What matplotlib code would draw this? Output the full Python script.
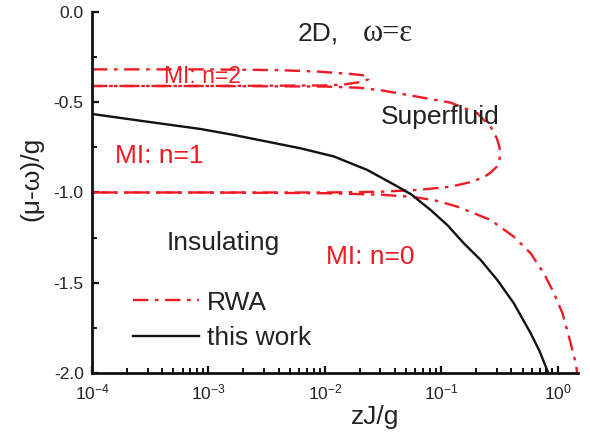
import matplotlib
matplotlib.use("Agg")
import matplotlib.pyplot as plt
from matplotlib.ticker import FixedLocator, LogLocator, NullFormatter, MultipleLocator

plt.rcParams['font.family'] = ['Liberation Sans', 'DejaVu Sans']
plt.rcParams['mathtext.fontset'] = 'custom'
plt.rcParams['mathtext.rm'] = 'Liberation Sans'
plt.rcParams['mathtext.default'] = 'regular'

# ---- data ----
# RWA, n=2 lobe (upper branch left->tip, lower branch tip->left)
rwa2_x = [1e-4, 1e-3, 4e-3, 0.0086, 0.0166, 0.021, 0.0238, 0.0236, 0.0212, 0.0145, 0.01, 1e-3, 1e-4]
rwa2_y = [-0.318, -0.318, -0.322, -0.330, -0.343, -0.350, -0.360, -0.373, -0.386, -0.402, -0.407, -0.41, -0.41]
# RWA, n=1 lobe
rwa1_x = [1e-4, 1e-3, 0.01, 0.02, 0.032, 0.062, 0.12, 0.204, 0.265, 0.30, 0.315, 0.322,
          0.315, 0.30, 0.265, 0.232, 0.179, 0.12, 0.062, 0.03, 0.01, 1e-3, 1e-4]
rwa1_y = [-0.41, -0.41, -0.413, -0.42, -0.436, -0.469, -0.502, -0.561, -0.635, -0.70, -0.746, -0.78,
          -0.825, -0.857, -0.89, -0.915, -0.942, -0.968, -0.986, -0.996, -1.0, -1.0, -1.0]
# RWA, n=0 lobe boundary
rwa0_x = [1e-4, 1e-3, 0.01, 0.03, 0.058, 0.09, 0.137, 0.265, 0.42, 0.586, 0.76, 0.93, 1.10, 1.25, 1.43, 1.47]
rwa0_y = [-1.0, -1.0, -1.004, -1.012, -1.025, -1.045, -1.078, -1.152, -1.245, -1.337, -1.448, -1.558, -1.67, -1.80, -1.946, -2.0]
# this work
tw_x = [1e-4, 3e-4, 8.5e-4, 1.64e-3, 3.18e-3, 6.15e-3, 0.0119, 0.0231, 0.039, 0.055, 0.081, 0.1125,
        0.156, 0.218, 0.303, 0.42, 0.586, 0.70, 0.83]
tw_y = [-0.565, -0.608, -0.648, -0.681, -0.718, -0.755, -0.80, -0.875, -0.955, -1.01, -1.097, -1.18,
        -1.281, -1.374, -1.485, -1.614, -1.78, -1.88, -2.0]

xtick_vals = [1e-4, 1e-3, 1e-2, 1e-1, 1e0]
xtick_labels = ['10$^{-4}$', '10$^{-3}$', '10$^{-2}$', '10$^{-1}$', '10$^{0}$']
ytick_vals = [0.0, -0.5, -1.0, -1.5, -2.0]
ytick_labels = ['0.0', '-0.5', '-1.0', '-1.5', '-2.0']

red = '#ed1c24'
dash = (0, (6.5, 2.8, 1.5, 2.8))

fig = plt.figure(figsize=(5.90, 4.33), dpi=100)
ax = fig.add_axes([0.156, 0.1386, 0.824, 0.8337])

ax.plot(rwa2_x, rwa2_y, color=red, lw=1.7, linestyle=dash)
ax.plot(rwa1_x, rwa1_y, color=red, lw=1.7, linestyle=dash, label='RWA')
ax.plot(rwa0_x, rwa0_y, color=red, lw=1.7, linestyle=dash)
ax.plot(tw_x, tw_y, color='#111111', lw=1.7, label='this work')

ax.set_xscale('log')
ax.set_xlim(1e-4, 1.5)
ax.set_ylim(-2.0, 0.0)

ax.xaxis.set_major_locator(FixedLocator(xtick_vals))
ax.set_xticklabels(xtick_labels)
ax.xaxis.set_minor_locator(LogLocator(base=10, subs=range(2, 10), numticks=20))
ax.xaxis.set_minor_formatter(NullFormatter())
ax.set_yticks(ytick_vals)
ax.set_yticklabels(ytick_labels)
ax.yaxis.set_minor_locator(MultipleLocator(0.25))

for s in ['top', 'right']:
    ax.spines[s].set_visible(False)
for s in ['left', 'bottom']:
    ax.spines[s].set_linewidth(2.0)
    ax.spines[s].set_color('#111111')

ax.tick_params(which='major', direction='in', length=5, width=1.6, labelsize=12.5, color='#111111', labelcolor='#222222')
ax.tick_params(which='minor', direction='in', length=3.5, width=1.4, color='#111111')
ax.tick_params(axis='y', which='major', pad=6)
ax.tick_params(axis='x', which='major', pad=7)

ax.set_xlabel('zJ/g', fontsize=19, color='#222222', labelpad=2)
ax.xaxis.label.set_x(0.582)
ax.set_ylabel('(μ-ω)/g', fontsize=19, color='#222222')
ax.yaxis.set_label_coords(-0.10, 0.537)

# annotations
ax.text(8.9e-4, -0.355, 'MI: n=2', color=red, fontsize=16.5, ha='center', va='center')
ax.text(3.8e-4, -0.80, 'MI: n=1', color=red, fontsize=19, ha='center', va='center')
ax.text(0.0245, -1.357, 'MI: n=0', color=red, fontsize=19, ha='center', va='center')
ax.text(0.098, -0.58, 'Superfluid', color='#222222', fontsize=19, ha='center', va='center')
ax.text(1.33e-3, -1.28, 'Insulating', color='#222222', fontsize=19, ha='center', va='center')
ax.text(0.0058, -0.12, '2D,', color='#222222', fontsize=19, ha='left', va='center')
ax.text(0.021, -0.12, 'ω=ε', color='#222222', fontsize=22, ha='left', va='center',
        family=['Liberation Serif', 'DejaVu Serif'])

leg = ax.legend(loc='upper left', bbox_to_anchor=(0.085, 0.228), frameon=False, fontsize=19,
                handlelength=2.5, handletextpad=0.3, borderpad=0, borderaxespad=0, labelspacing=0.43,
                labelcolor='#222222')

fig.savefig('out.png', dpi=100)
